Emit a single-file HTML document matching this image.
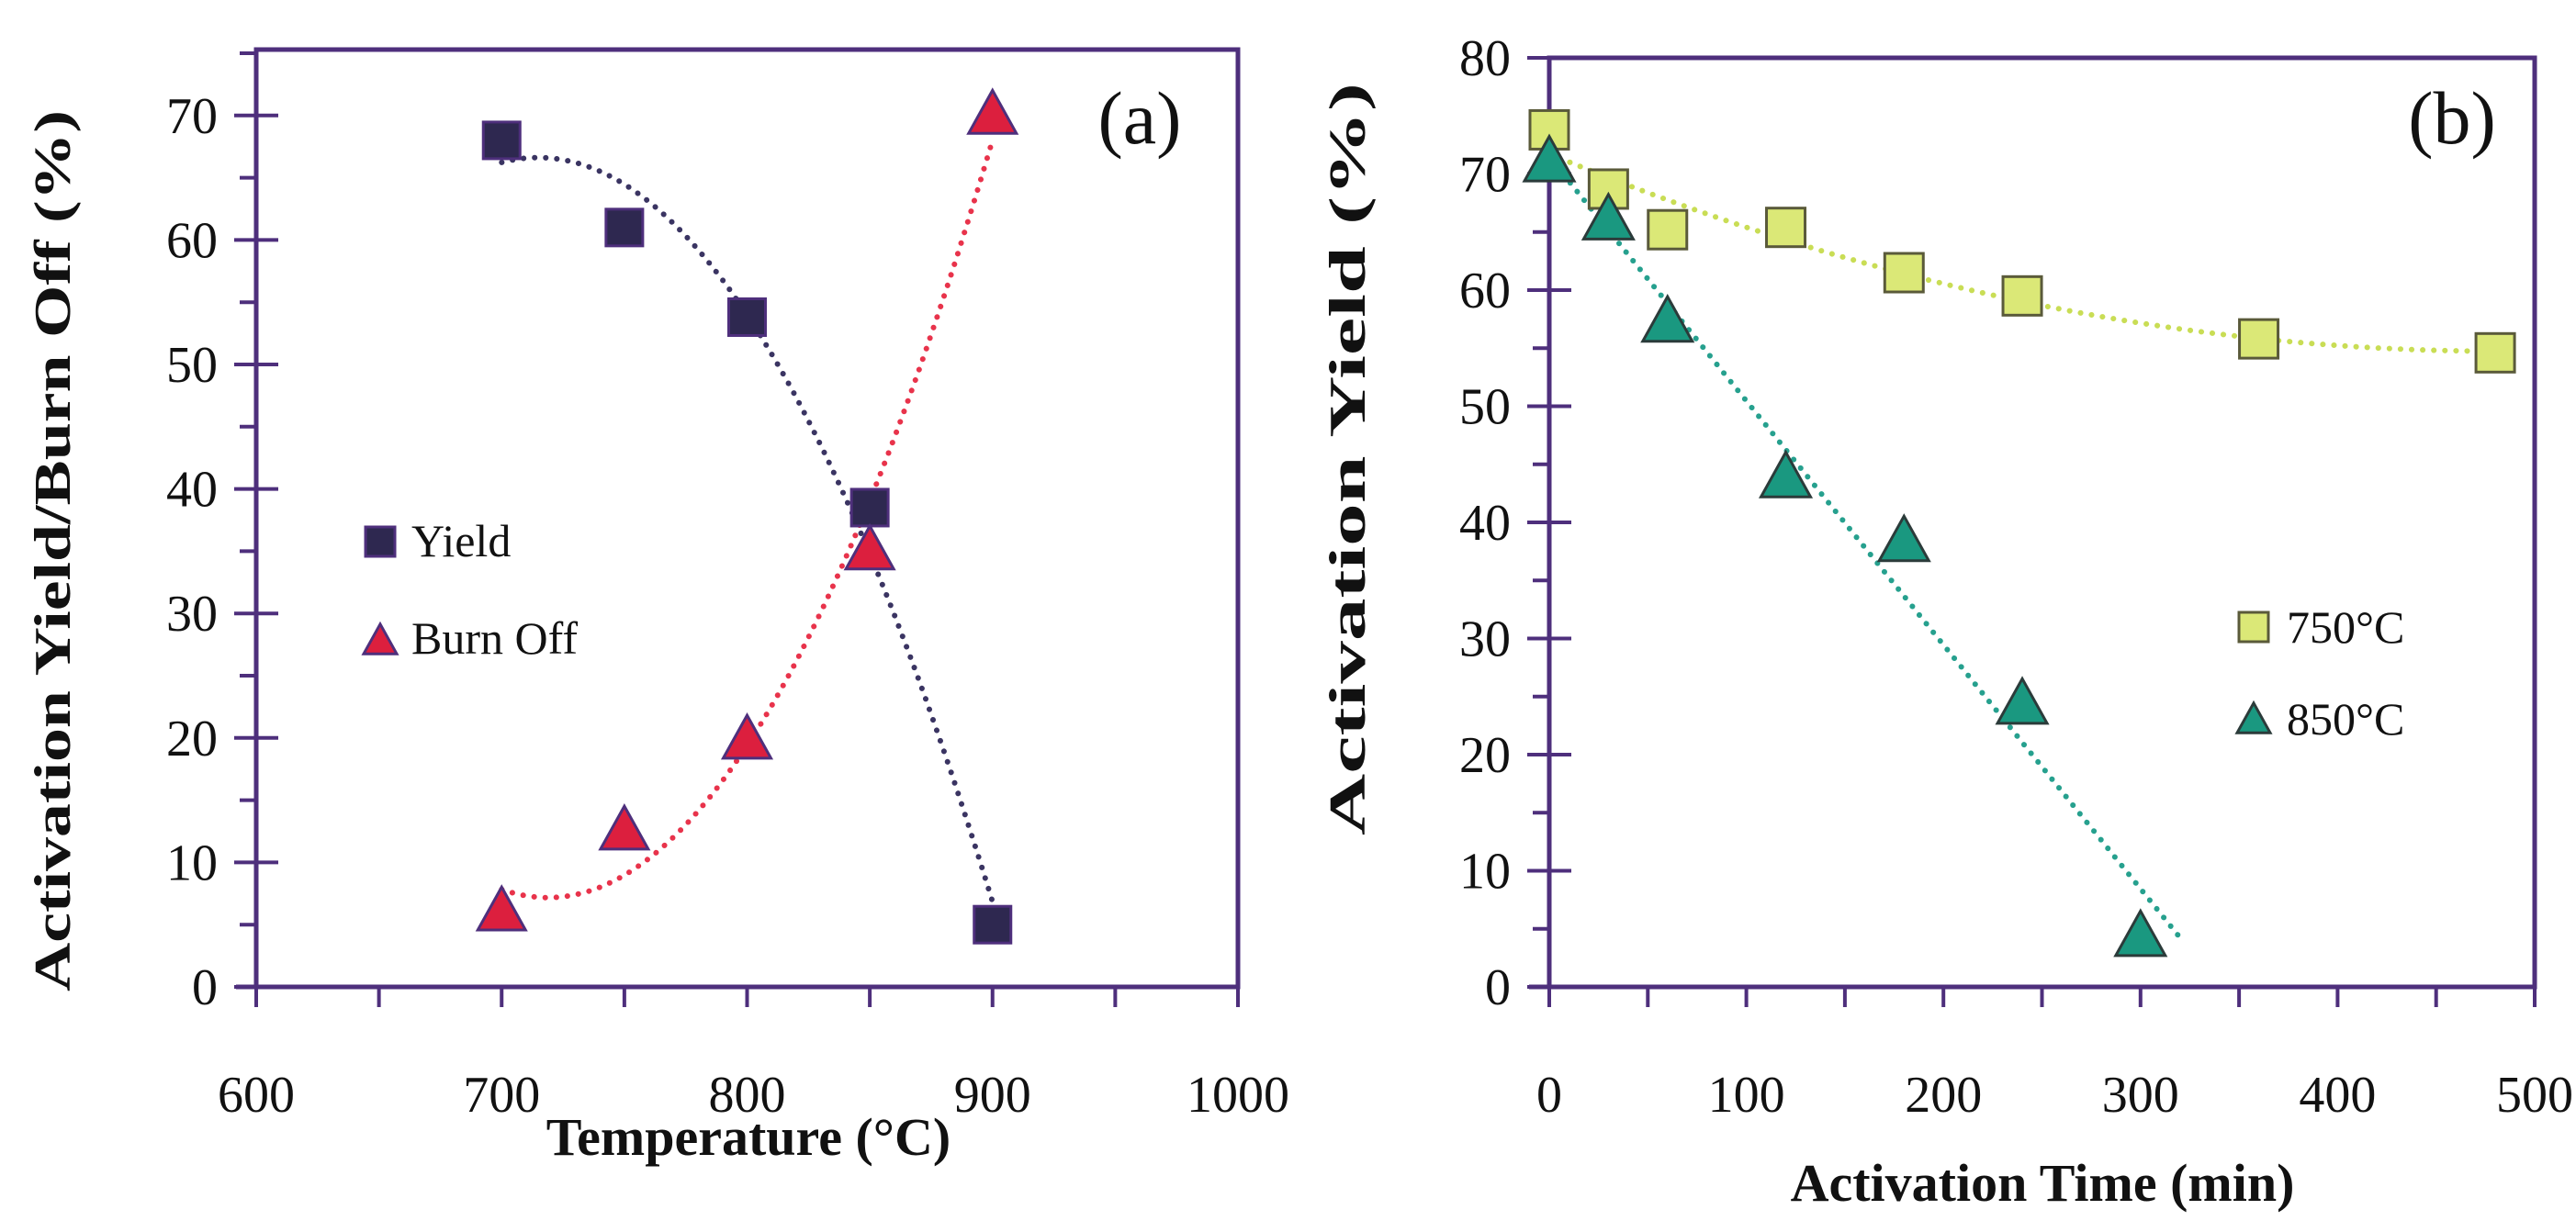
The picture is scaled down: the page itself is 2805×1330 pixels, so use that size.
<!DOCTYPE html>
<html><head><meta charset="utf-8"><style>
html,body{margin:0;padding:0;background:#fff;}
svg{display:block;}
text{font-family:"Liberation Serif",serif;fill:#111;}
</style></head><body>
<svg id="chart" width="2805" height="1330" viewBox="0 0 2805 1330" xmlns="http://www.w3.org/2000/svg">
<g id="pa"></g>
<g id="pb"></g>
</svg>
<script>
// Panel (a) data
const tempsA = [700, 750, 800, 850, 900];
const yieldA = [68, 61, 53.8, 38.5, 5];
const burnA = [6, 12.5, 19.8, 35, 70];
const xTicksA = [600, 700, 800, 900, 1000];
const yTicksA = [0, 10, 20, 30, 40, 50, 60, 70];
// Panel (b) data
const timesB750 = [0, 30, 60, 120, 180, 240, 360, 480];
const yield750 = [73.8, 68.7, 65.2, 65.4, 61.5, 59.5, 55.8, 54.6];
const timesB850 = [0, 30, 60, 120, 180, 240, 300];
const yield850 = [71, 66, 57.2, 43.8, 38.3, 24.3, 4.3];
const xTicksB = [0, 100, 200, 300, 400, 500];
const yTicksB = [0, 10, 20, 30, 40, 50, 60, 70, 80];

const NS = "http://www.w3.org/2000/svg";
const AX = "#4e2f7c";
function el(parent, tag, attrs, text){
  const e = document.createElementNS(NS, tag);
  for (const k in attrs) e.setAttribute(k, attrs[k]);
  if (text !== undefined) e.textContent = text;
  parent.appendChild(e);
  return e;
}
function polyfit(xs, ys, deg){
  const n = deg + 1, x0 = xs[0], sc = (xs[xs.length-1]-xs[0]) || 1;
  const A = [], b = [];
  for (let i=0;i<n;i++){A.push(new Array(n).fill(0)); b.push(0);}
  xs.forEach((x,k)=>{const u=(x-x0)/sc;
    for(let i=0;i<n;i++){b[i]+=ys[k]*Math.pow(u,i);
      for(let j=0;j<n;j++)A[i][j]+=Math.pow(u,i+j);}});
  for(let i=0;i<n;i++){let p=i;for(let r=i+1;r<n;r++)if(Math.abs(A[r][i])>Math.abs(A[p][i]))p=r;
    [A[i],A[p]]=[A[p],A[i]];[b[i],b[p]]=[b[p],b[i]];
    for(let r=0;r<n;r++){if(r===i)continue;const f=A[r][i]/A[i][i];
      for(let c=i;c<n;c++)A[r][c]-=f*A[i][c];b[r]-=f*b[i];}}
  const co=b.map((v,i)=>v/A[i][i]);
  return x=>{const u=(x-x0)/sc;let s=0;co.forEach((c,i)=>s+=c*Math.pow(u,i));return s;};
}
function curve(g, f, x0, x1, sx, sy, color, name){
  let d="";
  for(let i=0;i<=80;i++){const x=x0+(x1-x0)*i/80;d+=(i?"L":"M")+sx(x).toFixed(1)+" "+sy(f(x)).toFixed(1);}
  const p = el(g,"path",{d:d,fill:"none",stroke:color,"stroke-width":6,"stroke-dasharray":"0.1 12","stroke-linecap":"round"});
  
  
}
function square(g,cx,cy,s,fill,stroke,name){
  const r = el(g,"rect",{x:cx-s/2,y:cy-s/2,width:s,height:s,fill:fill,stroke:stroke,"stroke-width":3});
  
  
}
function tri(g,cx,cy,w,fill,stroke,name){
  const h=w*0.9;
  const p = el(g,"polygon",{points:`${cx},${cy-h/2-4} ${cx+w/2},${cy+h/2-4} ${cx-w/2},${cy+h/2-4}`,fill:fill,stroke:stroke,"stroke-width":3});
  
  
}

function axes(g, L, R, T, B, sx, sy, xTicks, xMinorStep, yTicks, yMinorStep, xmin, xmax, ymin, ymax){
  el(g,"rect",{x:L,y:T,width:R-L,height:B-T,fill:"none",stroke:AX,"stroke-width":5});
  el(g,"line",{x1:L-22,y1:B,x2:R,y2:B,stroke:AX,"stroke-width":5});
  for(let v=xmin; v<=xmax+1e-9; v+=xMinorStep){
    const t = el(g,"line",{x1:sx(v),y1:B,x2:sx(v),y2:B+22,stroke:AX,"stroke-width":4});
    
    
  }
  for(let v=ymin; v<=ymax+1e-9; v+=yMinorStep){
    const major = yTicks.indexOf(Math.round(v))>=0;
    const t = el(g,"line",{x1:L-(major?24:18),y1:sy(v),x2:major?L+24:L,y2:sy(v),stroke:AX,"stroke-width":4});
    
    
  }
  xTicks.forEach(v=>{
    const t = el(g,"text",{x:sx(v),y:1211,"font-size":56,"text-anchor":"middle"},String(v));
    
    
  });
  yTicks.forEach(v=>{
    const t = el(g,"text",{x:L-42,y:sy(v)+19,"font-size":56,"text-anchor":"end"},String(v));
    
    
  });
}

// ---- Panel A ----
(function(){
  const g = document.getElementById("pa");
  const L=279,R=1348,B=1075,T=54;
  const sx=v=>L+(v-600)/400*(R-L);
  const sy=v=>B-v*13.56;
  axes(g,L,R,T,B,sx,sy,xTicksA,50,yTicksA,5,600,1000,0,75);
  curve(g,polyfit(tempsA,yieldA,2),700,900,sx,sy,"#3a3462","yield-trendline");
  curve(g,polyfit(tempsA,burnA,2),700,900,sx,sy,"#e8334b","burn-off-trendline");
  tempsA.forEach((t,i)=>square(g,sx(t),sy(yieldA[i]),40,"#2e2850","#4e2f7c","yield-point"));
  tempsA.forEach((t,i)=>tri(g,sx(t),sy(burnA[i]),52,"#dc1f3e","#4e2f7c","burn-off-point"));
  const lab = el(g,"text",{x:1241,y:156,"font-size":82,"text-anchor":"middle"},"(a)");
   
  square(g,414,590,32,"#2e2850","#4e2f7c","legend-yield-marker");
  const t1=el(g,"text",{x:448,y:606,"font-size":50},"Yield");
   
  tri(g,414,700,36,"#dc1f3e","#4e2f7c","legend-burn-off-marker");
  const t2=el(g,"text",{x:448,y:712,"font-size":50},"Burn Off");
   
  const xt=el(g,"text",{x:815,y:1258,"font-size":58,"font-weight":"bold","text-anchor":"middle"},"Temperature (°C)");
   
  const yt=el(g,"text",{x:0,y:0,"font-size":56,"font-weight":"bold","text-anchor":"middle",transform:"translate(76,600) rotate(-90)",textLength:960,lengthAdjust:"spacingAndGlyphs"},"Activation Yield/Burn Off (%)");
   
})();

// ---- Panel B ----
(function(){
  const g = document.getElementById("pb");
  const L=1687,R=2760,B=1075,T=63;
  const sx=v=>L+v/500*(R-L);
  const sy=v=>B-v*12.65;
  axes(g,L,R,T,B,sx,sy,xTicksB,50,yTicksB,5,0,500,0,80);
  curve(g,polyfit(timesB750,yield750,2),0,480,sx,sy,"#c9dd55","trendline-750c");
  curve(g,polyfit(timesB850,yield850,1),0,320,sx,sy,"#26a08e","trendline-850c");
  timesB750.forEach((t,i)=>square(g,sx(t),sy(yield750[i]),42,"#dbe877","#5a5a3a","point-750c"));
  timesB850.forEach((t,i)=>tri(g,sx(t),sy(yield850[i]),54,"#1a9880","#2b3b3a","point-850c"));
  const lab = el(g,"text",{x:2670,y:156,"font-size":82,"text-anchor":"middle"},"(b)");
   
  square(g,2454,683,32,"#dbe877","#5a5a3a","legend-750c-marker");
  const t1=el(g,"text",{x:2490,y:700,"font-size":50},"750°C");
   
  tri(g,2454,786,36,"#1a9880","#2b3b3a","legend-850c-marker");
  const t2=el(g,"text",{x:2490,y:800,"font-size":50},"850°C");
   
  const xt=el(g,"text",{x:2224,y:1308,"font-size":58,"font-weight":"bold","text-anchor":"middle"},"Activation Time (min)");
   
  const yt=el(g,"text",{x:0,y:0,"font-size":56,"font-weight":"bold","text-anchor":"middle",transform:"translate(1486,500) rotate(-90)",textLength:820,lengthAdjust:"spacingAndGlyphs"},"Activation Yield (%)");
   
})();
</script>
</body></html>
